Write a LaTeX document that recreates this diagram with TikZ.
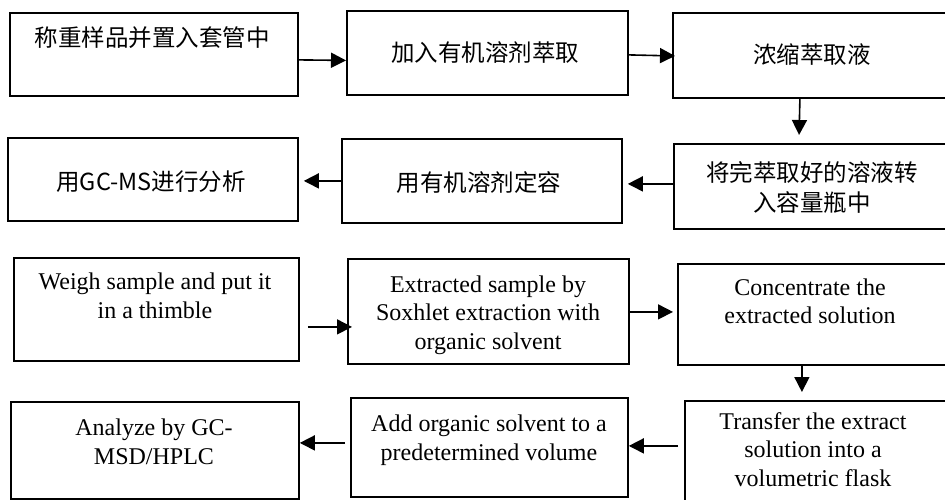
\documentclass[tikz,border=0pt]{standalone}
\usepackage{fontspec}
\setmainfont{Liberation Serif}
\newfontfamily\cjk{Noto Sans CJK SC}
\usetikzlibrary{arrows.meta}
\begin{document}
\begin{tikzpicture}[x=1pt,y=-1pt,
  box/.style={draw, line width=1.8pt, rectangle, anchor=north west, inner sep=0pt},
  cn/.style={font=\cjk\fontsize{23.5}{30}\selectfont, align=center, inner sep=0pt},
  en/.style={font=\fontsize{24}{28.5}\selectfont, align=center, inner sep=0pt, anchor=base},
  arr/.style={line width=1.6pt, -{Triangle[length=15pt,width=15pt]}}]
\useasboundingbox (0,0) rectangle (945,500);
\clip (0,0) rectangle (945,500);
% Chinese flow
\node[box, minimum width=288pt, minimum height=83pt] (a1) at (9,12) {};
\node[box, minimum width=281pt, minimum height=84pt] (a2) at (346,10) {};
\node[box, minimum width=282pt, minimum height=85pt] (a3) at (672,12) {};
\node[box, minimum width=280pt, minimum height=85pt] (a4) at (673,143) {};
\node[box, minimum width=280pt, minimum height=84pt] (a5) at (341,138) {};
\node[box, minimum width=290pt, minimum height=83pt] (a6) at (7,137) {};
\node[cn] (ta1) at (152,38) {称重样品并置入套管中};
\node[cn] (ta2) at (485,53) {加入有机溶剂萃取};
\node[cn] (ta3) at (812,55) {浓缩萃取液};
\node[cn] (ta4) at (812,187) {将完萃取好的溶液转\\入容量瓶中};
\node[cn] (ta5) at (479,183) {用有机溶剂定容};
\node[cn] (ta6) at (151,182) {用GC-MS进行分析};
\draw[arr] ([yshift=-5.5pt]a1.east) -- ([yshift=-7.5pt]a2.west);
\draw[arr, shorten >=-3pt] ([yshift=-2pt]a2.east) -- ([yshift=-0.5pt]a3.west);
\draw[arr, shorten >=8pt] ([xshift=-14pt]a3.south) -- ([xshift=-15pt]a4.north);
\draw[arr, shorten >=5pt] ([yshift=2.5pt]a4.west) -- ([yshift=-3pt]a5.east);
\draw[arr, shorten >=5pt] (a5.west) -- ([yshift=-1.5pt]a6.east);
% English flow
\node[box, minimum width=285pt, minimum height=103pt] (b1) at (13,257) {};
\node[box, minimum width=281pt, minimum height=105pt] (b2) at (347,258) {};
\node[box, minimum width=275pt, minimum height=101pt] (b3) at (677,263) {};
\node[box, minimum width=270pt, minimum height=110pt] (b4) at (684,400) {};
\node[box, minimum width=277pt, minimum height=99pt] (b5) at (350,397) {};
\node[box, minimum width=288pt, minimum height=97pt] (b6) at (10,401) {};
\node[en] (tb1) at (155,318) {Weigh sample and put it\\in a thimble};
\node[en] (tb2) at (488,349) {Extracted sample by\\Soxhlet extraction with\\organic solvent};
\node[en] (tb3) at (810,323.5) {Concentrate the\\extracted solution};
\node[en] (tb4) at (813,486) {Transfer the extract\\solution into a\\volumetric flask};
\node[en] (tb5) at (489,460) {Add organic solvent to a\\predetermined volume};
\node[en] (tb6) at (154,464) {Analyze by GC-\\MSD/HPLC};
\draw[arr, shorten <=8pt, shorten >=-5pt] ([yshift=-17.5pt]b1.east) -- ([yshift=-15.5pt]b2.west);
\draw[arr, shorten >=4pt] ([yshift=-0.5pt]b2.east) -- ([yshift=2.5pt]b3.west);
\draw[arr, shorten >=8pt] ([xshift=-13.5pt]b3.south) -- ([xshift=-18pt]b4.north);
\draw[arr, shorten <=6pt] ([yshift=10pt]b4.west) -- ([yshift=1.5pt]b5.east);
\draw[arr, shorten <=5pt] ([yshift=4.5pt]b5.west) -- ([yshift=7.5pt]b6.east);
\end{tikzpicture}
\end{document}
